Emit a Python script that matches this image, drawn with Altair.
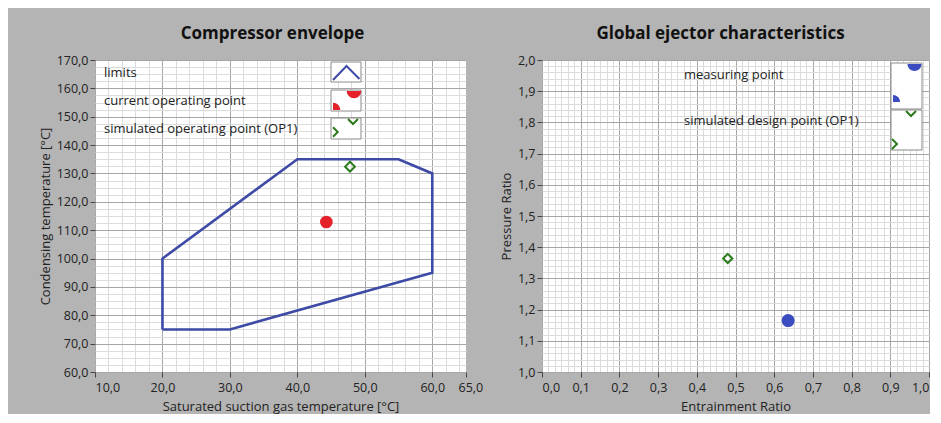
import altair as alt
import pandas as pd

# ---------------- data ----------------
# Compressor envelope (limits polygon)
env_x = [20, 20, 40, 55, 60, 60, 30, 20]
env_y = [75, 100, 135, 135, 130, 95, 75, 75]
# current operating point
cur_x = [44.3]
cur_y = [112.9]
# simulated operating point (OP1)
sim_x = [47.8]
sim_y = [132.4]

# Global ejector characteristics
meas_er = [0.636]
meas_pr = [1.165]
des_er = [0.48]
des_pr = [1.364]

left_x_major = [10, 20, 30, 40, 50, 60]
left_x_last = [65]
left_y_major = [60, 70, 80, 90, 100, 110, 120, 130, 140, 150, 160, 170]
right_x_major = [0.0, 0.1, 0.2, 0.3, 0.4, 0.5, 0.6, 0.7, 0.8, 0.9, 1.0]
right_y_major = [1.0, 1.1, 1.2, 1.3, 1.4, 1.5, 1.6, 1.7, 1.8, 1.9, 2.0]

left_legend = ["limits", "current operating point", "simulated operating point (OP1)"]
right_legend = ["measuring point", "simulated design point (OP1)"]

titles = ["Compressor envelope", "Global ejector characteristics"]
axis_titles = ["Saturated suction gas temperature [°C]", "Condensing temperature [°C]",
               "Entrainment Ratio", "Pressure Ratio"]

# ---------------- style ----------------
FONT = "Open Sans"
BG = "#b4b4b4"
TXT = "#222222"
MAJOR = "#a6a6a6"
MINOR = "#dcdcdc"
BLUE_LINE = "#3d4aa6"
RED = "#e5222a"
GREEN = "#2b7a1c"
BLUE_PT = "#3a4cc0"
LBL = "replace(format(datum.value, '.1f'), '.', ',')"
LFS = 12.5

# minor grid positions (style only)
left_x_minor = [10 + 2 * i for i in range(28)]
left_y_minor = [60 + 2.5 * i for i in range(45)]
right_x_minor = [i / 60 for i in range(61)]
right_y_minor = [1 + i / 50 for i in range(51)]


def minor_axis(vals, orient):
    return alt.Axis(values=vals, orient=orient, grid=True, gridColor=MINOR, gridWidth=1,
                    labels=False, ticks=False, domain=False, title=None)


def major_axis(vals, title, orient, **extra):
    common = dict(values=vals, orient=orient, grid=True, gridColor=MAJOR, gridWidth=1,
                  domain=False, labelOverlap=False,
                  ticks=True, tickColor="#444444", tickSize=5, tickWidth=1,
                  labelExpr=LBL, labelFont=FONT, labelFontSize=LFS, labelColor=TXT,
                  title=title, titleFont=FONT, titleFontSize=13, titleFontWeight="normal",
                  titleColor=TXT)
    common.update(extra)
    if orient == "bottom":
        return alt.Axis(labelPadding=4, titlePadding=7, **common)
    return alt.Axis(labelPadding=2, titlePadding=4, **common)


one = pd.DataFrame({"a": [0]})


def text_at(label, x, y):
    return alt.Chart(one).mark_text(text=label, align="left", baseline="middle",
                                    font=FONT, fontSize=13, color=TXT).encode(
        x=alt.value(x), y=alt.value(y))


def box_at(x, y, x2, y2):
    return alt.Chart(one).mark_rect(fill="white", stroke="#8a8a8a", strokeWidth=1).encode(
        x=alt.value(x), y=alt.value(y), x2=alt.value(x2), y2=alt.value(y2))


def glyph(path, x, y, size, color, filled):
    if filled:
        m = alt.Chart(one).mark_point(shape=path, filled=True, fill=color, stroke=color,
                                      strokeWidth=0, size=size, opacity=1)
    else:
        m = alt.Chart(one).mark_point(shape=path, filled=False, stroke=color,
                                      strokeWidth=2, size=size, opacity=1)
    return m.encode(x=alt.value(x), y=alt.value(y))


HALF_DOWN = "M -1 0 A 1 1 0 0 0 1 0 Z"
QUARTER = "M 0 0 L 0 -1 A 1 1 0 0 1 1 0 Z"
VEE = "M -1 0 L 0 1 L 1 0"
GT = "M 0 -1 L 1 0 L 0 1"
CHEVRON = "M -1 0.52 L 0 -0.52 L 0.96 0.44"

# ---------------- left panel ----------------
lx = alt.Scale(domain=[10, 65], nice=False, zero=False)
ly = alt.Scale(domain=[60, 170], nice=False, zero=False)

env_df = pd.DataFrame({"x": env_x, "y": env_y, "i": list(range(len(env_x)))})
cur_df = pd.DataFrame({"x": cur_x, "y": cur_y})
sim_df = pd.DataFrame({"x": sim_x, "y": sim_y})

env_line = alt.Chart(env_df).mark_line(color=BLUE_LINE, strokeWidth=2.6).encode(
    x=alt.X("x:Q", scale=lx, axis=minor_axis(left_x_minor, "bottom")),
    y=alt.Y("y:Q", scale=ly, axis=minor_axis(left_y_minor, "left")),
    order=alt.Order("i:Q"),
)
cur_pt = alt.Chart(cur_df).mark_point(shape="circle", filled=True, color=RED, size=160,
                                      opacity=1).encode(
    x=alt.X("x:Q", scale=lx, axis=major_axis(left_x_major, axis_titles[0], "bottom")),
    y=alt.Y("y:Q", scale=ly, axis=major_axis(left_y_major, axis_titles[1], "left")),
)
sim_pt = alt.Chart(sim_df).mark_point(shape="diamond", filled=False, color=GREEN, size=95,
                                      strokeWidth=2, opacity=1).encode(
    x=alt.X("x:Q", scale=lx, axis=alt.Axis(
        values=left_x_last, orient="bottom", grid=False, domain=False, labelOverlap=False,
        ticks=True, tickColor="#444444", tickSize=5, tickWidth=1,
        labelExpr=LBL, labelFont=FONT, labelFontSize=LFS, labelColor=TXT,
        labelPadding=4, labelAlign="left", labelOffset=-8, title=None)),
    y=alt.Y("y:Q", scale=ly, axis=None),
)

left_legend_layers = [
    text_at(left_legend[0], 9, 13),
    text_at(left_legend[1], 9, 41),
    text_at(left_legend[2], 9, 69),
    box_at(236, 2, 266, 22),
    box_at(236, 30, 266, 51),
    box_at(236, 58, 266, 79),
    glyph(CHEVRON, 251.5, 13, 729, BLUE_LINE, False),
    glyph(HALF_DOWN, 259, 31, 210, RED, True),
    glyph(QUARTER, 238, 50, 210, RED, True),
    glyph(VEE, 258, 59, 100, GREEN, False),
    glyph(GT, 238, 72, 90, GREEN, False),
]

left = alt.layer(env_line, cur_pt, sim_pt, *left_legend_layers).resolve_axis(
    x="independent", y="independent"
).properties(
    width=371, height=312,
    title=alt.Title(titles[0], font=FONT, fontSize=17, fontWeight="bold", color="#111111",
                    anchor="middle", offset=11, dx=-8),
)

# ---------------- right panel ----------------
rx = alt.Scale(domain=[0, 1], nice=False, zero=False)
ry = alt.Scale(domain=[1, 2], nice=False, zero=False)

meas_df = pd.DataFrame({"x": meas_er, "y": meas_pr})
des_df = pd.DataFrame({"x": des_er, "y": des_pr})

grid_r = alt.Chart(meas_df).mark_point(opacity=0).encode(
    x=alt.X("x:Q", scale=rx, axis=minor_axis(right_x_minor, "bottom")),
    y=alt.Y("y:Q", scale=ry, axis=minor_axis(right_y_minor, "left")),
)
meas_pt = alt.Chart(meas_df).mark_point(shape="circle", filled=True, color=BLUE_PT, size=170,
                                        opacity=1).encode(
    x=alt.X("x:Q", scale=rx, axis=major_axis(right_x_major, axis_titles[2], "bottom")),
    y=alt.Y("y:Q", scale=ry, axis=major_axis(right_y_major, axis_titles[3], "left")),
)
des_pt = alt.Chart(des_df).mark_point(shape="diamond", filled=False, color=GREEN, size=85,
                                      strokeWidth=2, opacity=1).encode(
    x=alt.X("x:Q", scale=rx, axis=None),
    y=alt.Y("y:Q", scale=ry, axis=None),
)

right_legend_layers = [
    text_at(right_legend[0], 142, 15),
    text_at(right_legend[1], 142, 61),
    box_at(349, 3, 380, 49),
    box_at(349, 50, 380, 90),
    glyph(HALF_DOWN, 372.5, 4, 196, BLUE_PT, True),
    glyph(QUARTER, 351, 42, 200, BLUE_PT, True),
    glyph(VEE, 369, 51, 100, GREEN, False),
    glyph(GT, 350, 84, 100, GREEN, False),
]

right = alt.layer(grid_r, meas_pt, des_pt, *right_legend_layers).resolve_axis(
    x="independent", y="independent"
).properties(
    width=387, height=312,
    title=alt.Title(titles[1], font=FONT, fontSize=17, fontWeight="bold", color="#111111",
                    anchor="middle", offset=11, dx=-15),
)

chart = alt.hconcat(left, right, spacing=17).properties(
    background=BG,
    padding={"left": 31, "top": 17, "right": 0, "bottom": 0},
).configure_view(fill="white", strokeWidth=0)

chart.save("out.html", embed_options={"renderer": "svg", "actions": False})
